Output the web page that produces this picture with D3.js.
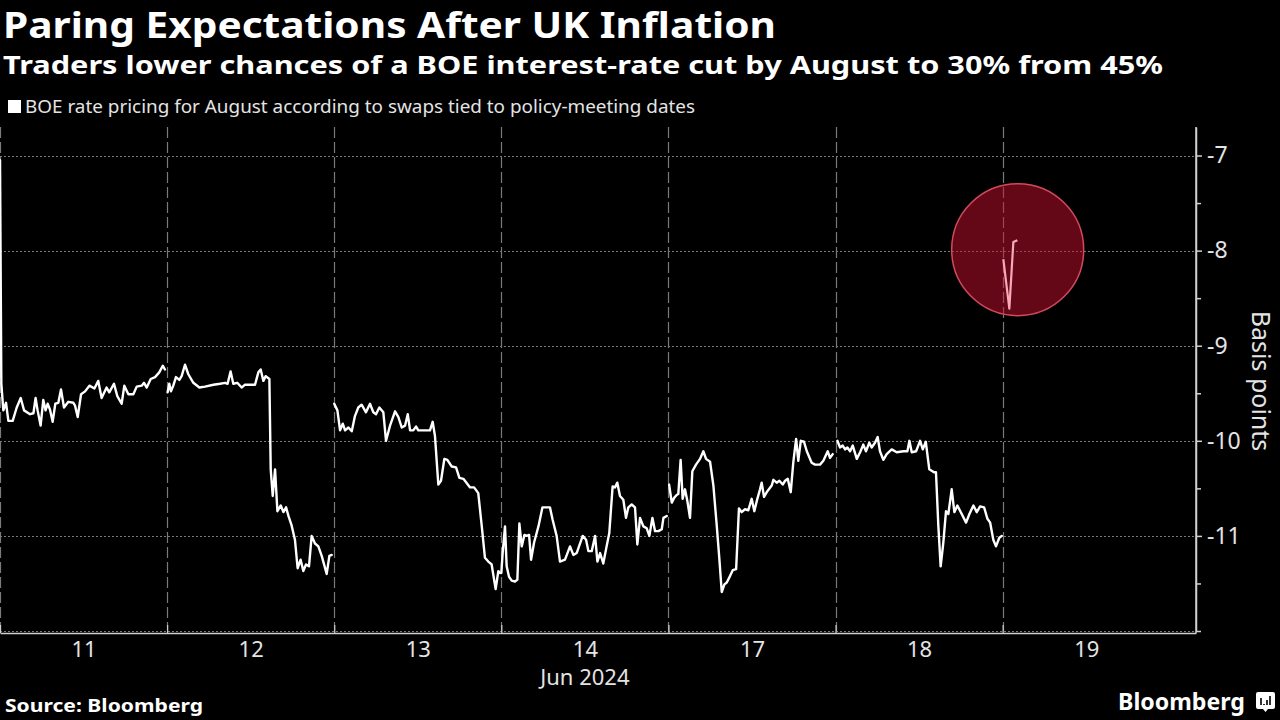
<!DOCTYPE html>
<html><head><meta charset="utf-8">
<script src="https://cdn.jsdelivr.net/npm/d3@7"></script>
<style>html,body{margin:0;padding:0;background:#000;} svg{display:block;}</style>
</head><body><svg id="chart" width="1280" height="720"></svg>
<script>
// ---------- DATA (time in trading days from 11 Jun, value in basis points) ----------
const dayLabels = ["11", "12", "13", "14", "17", "18", "19"];
const monthLabel = "Jun 2024";
const yTicks = [-7, -8, -9, -10, -11];
const yMinorTicks = [-7.5, -8.5, -9.5, -10.5, -11.5, -12];
const dayBoundaries = [0, 1, 2, 3, 4, 5, 6];

const day11 = [[0,-7.05],[0.008,-9.40],[0.020,-9.68],[0.036,-9.60],[0.050,-9.79],[0.076,-9.79],[0.100,-9.65],[0.124,-9.55],[0.144,-9.68],[0.180,-9.72],[0.200,-9.71],[0.213,-9.55],[0.225,-9.68],[0.243,-9.84],[0.259,-9.57],[0.273,-9.68],[0.285,-9.61],[0.299,-9.67],[0.315,-9.80],[0.331,-9.61],[0.349,-9.60],[0.365,-9.46],[0.383,-9.65],[0.409,-9.59],[0.439,-9.60],[0.449,-9.63],[0.465,-9.75],[0.485,-9.51],[0.509,-9.48],[0.535,-9.42],[0.565,-9.45],[0.588,-9.37],[0.608,-9.55],[0.638,-9.44],[0.654,-9.49],[0.682,-9.40],[0.702,-9.53],[0.728,-9.61],[0.744,-9.42],[0.768,-9.51],[0.798,-9.51],[0.818,-9.43],[0.848,-9.42],[0.862,-9.39],[0.878,-9.44],[0.902,-9.35],[0.928,-9.33],[0.953,-9.28],[0.974,-9.21],[0.987,-9.25]];
const day12 = [[1.003,-9.49],[1.013,-9.40],[1.023,-9.48],[1.037,-9.42],[1.053,-9.33],[1.073,-9.36],[1.087,-9.32],[1.107,-9.20],[1.127,-9.30],[1.157,-9.39],[1.193,-9.44],[1.227,-9.43],[1.277,-9.41],[1.317,-9.40],[1.347,-9.39],[1.362,-9.40],[1.380,-9.27],[1.396,-9.40],[1.420,-9.39],[1.446,-9.44],[1.466,-9.41],[1.526,-9.41],[1.546,-9.28],[1.560,-9.25],[1.576,-9.37],[1.590,-9.32],[1.612,-9.35],[1.620,-10.30],[1.632,-10.58],[1.646,-10.30],[1.660,-10.74],[1.680,-10.68],[1.696,-10.75],[1.712,-10.70],[1.726,-10.79],[1.745,-10.89],[1.765,-11.04],[1.781,-11.34],[1.799,-11.25],[1.815,-11.37],[1.831,-11.30],[1.849,-11.32],[1.865,-11.00],[1.885,-11.08],[1.905,-11.11],[1.925,-11.21],[1.955,-11.40],[1.971,-11.21],[1.985,-11.20]];
const day13 = [[2.000,-9.61],[2.019,-9.68],[2.035,-9.89],[2.051,-9.82],[2.065,-9.89],[2.085,-9.86],[2.105,-9.90],[2.124,-9.74],[2.144,-9.65],[2.164,-9.62],[2.190,-9.70],[2.214,-9.61],[2.234,-9.70],[2.250,-9.72],[2.270,-9.65],[2.294,-9.70],[2.310,-10.00],[2.334,-9.84],[2.364,-9.69],[2.384,-9.75],[2.404,-9.86],[2.424,-9.84],[2.440,-9.72],[2.454,-9.89],[2.473,-9.89],[2.490,-9.85],[2.503,-9.89],[2.543,-9.89],[2.573,-9.89],[2.589,-9.80],[2.603,-9.95],[2.623,-10.46],[2.639,-10.42],[2.659,-10.19],[2.677,-10.20],[2.703,-10.27],[2.729,-10.28],[2.749,-10.39],[2.773,-10.40],[2.813,-10.49],[2.837,-10.49],[2.862,-10.55],[2.883,-10.90],[2.902,-11.23],[2.922,-11.27],[2.942,-11.30],[2.966,-11.56],[2.982,-11.37],[2.992,-11.39]];
const day14 = [[3.000,-11.39],[3.008,-11.18],[3.022,-10.90],[3.032,-11.32],[3.046,-11.43],[3.062,-11.47],[3.082,-11.48],[3.096,-11.46],[3.108,-10.87],[3.122,-11.11],[3.138,-10.99],[3.152,-11.00],[3.166,-10.99],[3.178,-11.25],[3.196,-11.07],[3.222,-10.90],[3.246,-10.70],[3.291,-10.70],[3.307,-10.83],[3.331,-11.00],[3.351,-11.27],[3.381,-11.25],[3.411,-11.11],[3.431,-11.20],[3.451,-11.18],[3.467,-11.10],[3.487,-11.00],[3.507,-11.04],[3.521,-11.16],[3.541,-11.16],[3.561,-11.00],[3.575,-11.27],[3.591,-11.18],[3.610,-11.29],[3.630,-11.11],[3.646,-10.97],[3.666,-10.48],[3.680,-10.49],[3.694,-10.44],[3.710,-10.58],[3.730,-10.62],[3.746,-10.81],[3.760,-10.70],[3.780,-10.67],[3.800,-10.70],[3.814,-11.09],[3.830,-10.81],[3.850,-10.90],[3.870,-10.92],[3.886,-11.00],[3.904,-10.81],[3.920,-10.95],[3.940,-10.95],[3.960,-10.93],[3.970,-10.81],[3.990,-10.79]];
const day17 = [[4.004,-10.46],[4.020,-10.65],[4.034,-10.60],[4.049,-10.57],[4.059,-10.56],[4.073,-10.20],[4.085,-10.61],[4.099,-10.51],[4.113,-10.63],[4.129,-10.81],[4.143,-10.32],[4.165,-10.25],[4.189,-10.19],[4.209,-10.11],[4.225,-10.19],[4.249,-10.22],[4.269,-10.47],[4.289,-10.89],[4.305,-11.25],[4.319,-11.59],[4.335,-11.51],[4.349,-11.49],[4.369,-11.42],[4.385,-11.36],[4.405,-11.35],[4.422,-10.71],[4.438,-10.75],[4.458,-10.72],[4.478,-10.73],[4.498,-10.61],[4.514,-10.74],[4.532,-10.61],[4.548,-10.51],[4.558,-10.44],[4.572,-10.59],[4.592,-10.53],[4.618,-10.47],[4.628,-10.41],[4.648,-10.44],[4.664,-10.42],[4.684,-10.46],[4.698,-10.42],[4.714,-10.40],[4.732,-10.54],[4.747,-10.23],[4.764,-9.98],[4.777,-10.21],[4.792,-10.00],[4.811,-10.01],[4.828,-10.11],[4.857,-10.23],[4.877,-10.25],[4.907,-10.25],[4.927,-10.21],[4.953,-10.11],[4.967,-10.18],[4.983,-10.14]];
const day18 = [[5.011,-10.00],[5.027,-10.07],[5.043,-10.05],[5.057,-10.09],[5.071,-10.07],[5.087,-10.11],[5.103,-10.05],[5.127,-10.19],[5.147,-10.12],[5.166,-10.04],[5.182,-10.11],[5.202,-10.02],[5.216,-10.07],[5.236,-10.02],[5.252,-9.96],[5.266,-10.11],[5.286,-10.20],[5.306,-10.14],[5.336,-10.09],[5.366,-10.12],[5.406,-10.11],[5.430,-10.11],[5.442,-10.00],[5.456,-10.12],[5.482,-10.11],[5.506,-10.00],[5.522,-10.09],[5.540,-10.01],[5.561,-10.30],[5.589,-10.33],[5.601,-10.33],[5.615,-10.89],[5.629,-11.32],[5.645,-11.07],[5.661,-10.74],[5.675,-10.77],[5.695,-10.51],[5.711,-10.75],[5.729,-10.68],[5.755,-10.77],[5.781,-10.86],[5.801,-10.77],[5.825,-10.68],[5.845,-10.75],[5.865,-10.69],[5.889,-10.70],[5.909,-10.82],[5.925,-10.86],[5.944,-11.04],[5.960,-11.11],[5.980,-11.02],[5.995,-11.00]];
const day19 = [[6.004,-8.09],[6.040,-8.61],[6.064,-7.91],[6.088,-7.89]];
const highlightCenter = [6.09, -7.99];

const titleText = "Paring Expectations After UK Inflation";
const subtitleText = "Traders lower chances of a BOE interest-rate cut by August to 30% from 45%";
const legendText = "BOE rate pricing for August according to swaps tied to policy-meeting dates";
const yTitle = "Basis points";
const sourceText = "Source: Bloomberg";

// ---------- CHART ----------
const W = 1280, H = 720;
const svg = d3.select("#chart");
svg.append("rect").attr("width", W).attr("height", H).attr("fill", "#000");

const plot = {left: 0, right: 1196, top: 127, bottom: 631};
const x = d3.scaleLinear().domain([0, 7.157]).range([plot.left, plot.right]);
const y = d3.scaleLinear().domain([-12, -6.7]).range([plot.bottom, plot.top]);

const FONT = "'Noto Sans', 'DejaVu Sans', sans-serif";
const gridColor = "#7a7a7a";

function fitText(sel, target) {
  const n = sel.node();
  const w = n.getComputedTextLength();
  if (Math.abs(w - target) > 2) sel.attr("textLength", target).attr("lengthAdjust", "spacingAndGlyphs");
}

// gridlines horizontal
svg.append("g").selectAll("line").data(yTicks.concat([-12])).join("line")
  .attr("x1", plot.left).attr("x2", plot.right)
  .attr("y1", d => Math.round(y(d)) + 0.5).attr("y2", d => Math.round(y(d)) + 0.5)
  .attr("stroke", gridColor).attr("stroke-width", 1).attr("stroke-dasharray", "2,2");

// gridlines vertical (day boundaries)
svg.append("g").selectAll("line").data(dayBoundaries).join("line")
  .attr("x1", d => Math.round(x(d)) + 0.5).attr("x2", d => Math.round(x(d)) + 0.5)
  .attr("y1", plot.top).attr("y2", plot.bottom)
  .attr("stroke", gridColor).attr("stroke-width", 1.2).attr("stroke-dasharray", "11,4");

// highlight circle
svg.append("circle")
  .attr("cx", x(highlightCenter[0])).attr("cy", y(highlightCenter[1])).attr("r", 66)
  .attr("fill", "#c8102e").attr("fill-opacity", 0.5)
  .attr("stroke", "#d24a5c").attr("stroke-width", 1.5);

// lines
const line = d3.line().x(d => x(d[0])).y(d => y(d[1]));
const segments = [day11, day12, day13, day14, day17, day18];
svg.append("g").selectAll("path").data(segments).join("path")
  .attr("d", line).attr("fill", "none").attr("stroke", "#fff")
  .attr("stroke-width", 2.4).attr("stroke-linejoin", "round").attr("stroke-linecap", "round");
svg.append("path").datum(day19).attr("d", line).attr("fill", "none")
  .attr("stroke", "#f6a9b8").attr("stroke-width", 2.2).attr("stroke-linejoin", "round");

// right axis
const yAxisG = svg.append("g").attr("transform", `translate(${plot.right},0)`);
yAxisG.call(d3.axisRight(y).tickValues(yTicks).tickSize(6).tickSizeOuter(0).tickPadding(5).tickFormat(d => String(d)));
yAxisG.append("g").call(d3.axisRight(y).tickValues(yMinorTicks).tickSize(5).tickSizeOuter(0).tickFormat(""));
yAxisG.selectAll("path.domain").attr("stroke", "#d0d0d0").attr("stroke-width", 1.5);
yAxisG.select("g").selectAll("path.domain").remove();
yAxisG.selectAll(".tick line").attr("stroke", "#d0d0d0").attr("stroke-width", 1.5);
yAxisG.selectAll(".tick text").attr("fill", "#e4e4e4").style("font-family", FONT).style("font-size", "23px");
yAxisG.select("path.domain").attr("d", `M0,${plot.top}V${plot.bottom + 2}`);

// bottom axis
const xAxisG = svg.append("g").attr("transform", `translate(0,${plot.bottom + 2})`);
xAxisG.call(d3.axisBottom(x).tickValues(dayBoundaries).tickSize(-8).tickSizeOuter(0).tickFormat(""));
xAxisG.select("path.domain").attr("stroke", "#d0d0d0").attr("stroke-width", 1.5);
xAxisG.selectAll(".tick line").attr("stroke", "#d0d0d0").attr("stroke-width", 1.2);
const xLabG = svg.append("g").attr("transform", `translate(0,${plot.bottom + 2})`);
xLabG.call(d3.axisBottom(x).tickValues(dayLabels.map((d, i) => i + 0.5)).tickSize(0).tickPadding(8)
  .tickFormat((d, i) => dayLabels[i]));
xLabG.select("path.domain").remove();
xLabG.selectAll(".tick text").attr("fill", "#e4e4e4").style("font-family", FONT).style("font-size", "22px");

svg.append("text").attr("x", x(3.5)).attr("y", 685).attr("text-anchor", "middle")
  .attr("fill", "#e4e4e4").style("font-family", FONT).style("font-size", "22px").text(monthLabel);

// y title
svg.append("text").attr("transform", "translate(1252,381) rotate(90)").attr("text-anchor", "middle")
  .attr("fill", "#e4e4e4").style("font-family", FONT).style("font-size", "25px").text(yTitle);

// titles
const t1 = svg.append("text").attr("x", 3).attr("y", 38).attr("fill", "#fff")
  .style("font-family", FONT).style("font-weight", "bold").style("font-size", "36px").text(titleText);
fitText(t1, 773);
const t2 = svg.append("text").attr("x", 3).attr("y", 74).attr("fill", "#fff")
  .style("font-family", FONT).style("font-weight", "bold").style("font-size", "25px").text(subtitleText);
fitText(t2, 1160);

// legend
svg.append("rect").attr("x", 8).attr("y", 100).attr("width", 13).attr("height", 13).attr("fill", "#fff");
const lg = svg.append("text").attr("x", 25).attr("y", 113).attr("fill", "#e4e4e4")
  .style("font-family", FONT).style("font-size", "18px").text(legendText);
fitText(lg, 670);

// footer
const src = svg.append("text").attr("x", 5).attr("y", 712).attr("fill", "#fff")
  .style("font-family", FONT).style("font-weight", "bold").style("font-size", "18px").text(sourceText);
fitText(src, 198);
const logo = svg.append("text").attr("x", 1118).attr("y", 710).attr("fill", "#fff")
  .style("font-family", FONT).style("font-weight", "bold").style("font-size", "24px").text("Bloomberg");
fitText(logo, 127);
// logo icon
const ic = svg.append("g").attr("transform", "translate(1256,692)");
ic.append("path").attr("d", "M2,0H17Q19,0 19,2V15Q19,17 17,17H12L9.5,20L7,17H2Q0,17 0,15V2Q0,0 2,0Z").attr("fill", "#fff");
[[5,9,2],[8,6,5],[11,8,3],[14,10,1]].forEach(b => {
  ic.append("rect").attr("x", b[0] - 0.8).attr("y", 13 - b[1] + b[2]).attr("width", 1.6).attr("height", b[1] - b[2]).attr("fill", "#000");
});
</script></body></html>
